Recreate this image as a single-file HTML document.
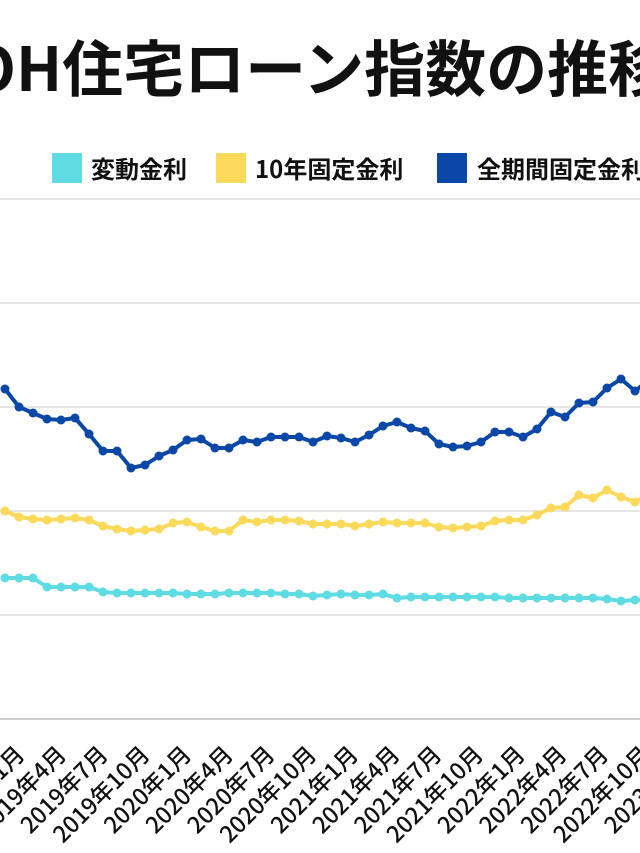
<!DOCTYPE html>
<html><head><meta charset="utf-8"><style>
html,body{margin:0;padding:0;background:#fff;width:640px;height:853px;overflow:hidden}
svg{display:block}
text{font-family:"Liberation Sans","Noto Sans CJK JP",sans-serif;font-weight:bold;fill:#111}
</style></head><body>
<svg width="640" height="853" viewBox="0 0 640 853" xmlns="http://www.w3.org/2000/svg">
<text x="-31" y="91" font-size="61" style="font-family:'Noto Sans CJK JP',sans-serif">OH住宅ローン指数の推移</text>
<rect x="52" y="153" width="30" height="30" fill="#5fdce3"/>
<text x="91" y="178" font-size="24" style="font-family:'Noto Sans CJK JP',sans-serif;font-weight:600">変動金利</text>
<rect x="216" y="153" width="30" height="30" fill="#fbd95a"/>
<text x="255" y="178" font-size="24" style="font-family:'Noto Sans CJK JP',sans-serif;font-weight:600">10年固定金利</text>
<rect x="437" y="153" width="30" height="30" fill="#0b47a6"/>
<text x="477" y="178" font-size="24" style="font-family:'Noto Sans CJK JP',sans-serif;font-weight:600">全期間固定金利</text>
<g stroke="#d6d6d6" stroke-width="1.2">
<line x1="0" y1="199" x2="640" y2="199"/><line x1="0" y1="303" x2="640" y2="303"/>
<line x1="0" y1="407" x2="640" y2="407"/><line x1="0" y1="511" x2="640" y2="511"/>
<line x1="0" y1="615" x2="640" y2="615"/>
</g>
<line x1="0" y1="719" x2="640" y2="719" stroke="#bdbdbd" stroke-width="1.5"/>
<g id="plot"></g>
<g id="labels"></g>
</svg>
<script>
var B=[389,407,413,419,420,418,434,451,451,468,465,456,450,440,439,448,448,440,442,437,437,437,442,436,438,442,435,426,422,428,431,444,447,446,442,432,432,437,429,412,417,403,402,388,379,391,380];
var Y=[511,517,519,520,519,518,520,526,529,531,530,529,523,522,527,531,531,520,522,520,520,521,524,524,524,526,524,522,523,523,523,527,528,527,526,521,520,520,515,508,507,495,498,490,497,502,494];
var C=[578,578,578,587,587,587,587,592,593,593,593,593,593,594,594,594,593,593,593,593,594,594,596,595,594,595,595,594,598,597,597,597,597,597,597,597,598,598,598,598,598,598,598,599,601,600,600];
var ns="http://www.w3.org/2000/svg",g=document.getElementById("plot");
function series(d,col){var p="";d.forEach(function(v,k){p+=(k?"L":"M")+(5+14*k)+" "+v});
var pa=document.createElementNS(ns,"path");pa.setAttribute("d",p);pa.setAttribute("fill","none");pa.setAttribute("stroke",col);pa.setAttribute("stroke-width","4");pa.setAttribute("stroke-linejoin","round");g.appendChild(pa);
d.forEach(function(v,k){var c=document.createElementNS(ns,"circle");c.setAttribute("cx",5+14*k);c.setAttribute("cy",v);c.setAttribute("r","4.5");c.setAttribute("fill",col);g.appendChild(c)});}
series(C,"#5fdce3");series(Y,"#fbd95a");series(B,"#0b47a6");
var L=["2019年1月","2019年4月","2019年7月","2019年10月","2020年1月","2020年4月","2020年7月","2020年10月","2021年1月","2021年4月","2021年7月","2021年10月","2022年1月","2022年4月","2022年7月","2022年10月","2023年1月"];
var lg=document.getElementById("labels");
L.forEach(function(s,j){var x=35+41.7*j-9,y=756;var t=document.createElementNS(ns,"text");t.setAttribute("x",x);t.setAttribute("y",y);t.setAttribute("font-size","23");t.setAttribute("text-anchor","end");t.setAttribute("transform","rotate(-45 "+x+" "+y+")");t.setAttribute("style","font-family:'Noto Sans CJK JP',sans-serif;font-weight:500");t.textContent=s;lg.appendChild(t)});
</script>
</body></html>
